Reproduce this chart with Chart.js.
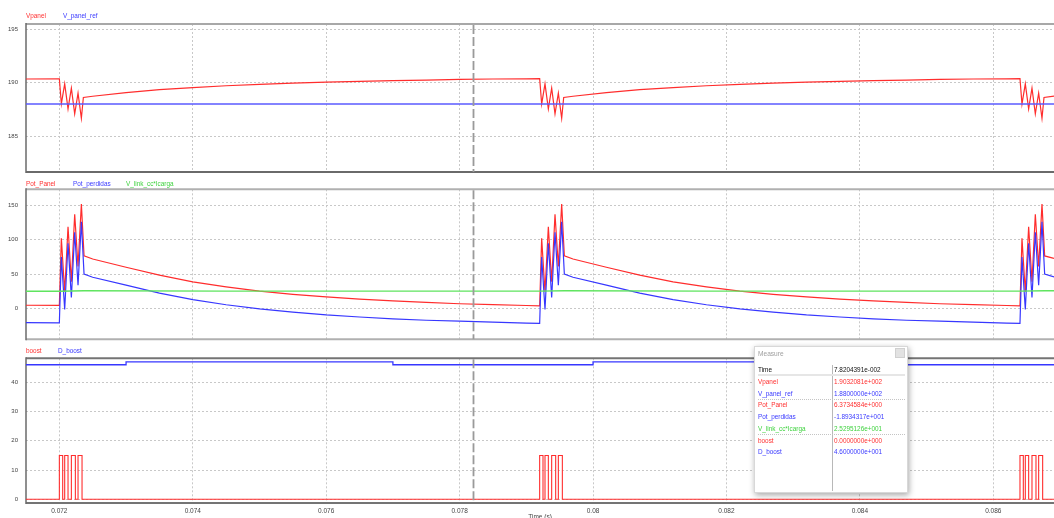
<!DOCTYPE html>
<html>
<head>
<meta charset="utf-8">
<script src="https://cdn.jsdelivr.net/npm/chart.js@4.4.1/dist/chart.umd.min.js"></script>
<style>
  html, body { margin: 0; padding: 0; background: #fff; overflow: hidden; }
  #wrap { position: relative; width: 1054px; height: 518px; overflow: hidden;
          font-family: "Liberation Sans", Arial, sans-serif; }
  canvas.panel { position: absolute; left: 0; top: 0; }
  .lg { position: absolute; font-size: 6.4px; line-height: 8px; white-space: nowrap; }
  .red { color: #ff3030; }
  .blue { color: #3a3aff; }
  .green { color: #3fd23f; }
  #measure { position: absolute; left: 754px; top: 346px; width: 152px; height: 145px;
             background: #fff; border: 1px solid #d8d8d8;
             box-shadow: 1px 2px 6px rgba(0,0,0,0.35); font-size: 6.4px; }
  #measure .t { position: absolute; line-height: 8px; white-space: nowrap; }
  #measure .ttl { color: #a0a0a0; font-size: 6.6px; }
  #measure .close { position: absolute; left: 140px; top: 1px; width: 10px; height: 10px;
                    background: #e2e2e2; border: 1px solid #d0d0d0; box-sizing: border-box; }
  #measure .vdiv { position: absolute; left: 77px; top: 18px; width: 1px; height: 126px; background: #b8b8b8; }
  #measure .hsep { position: absolute; left: 3px; top: 27px; width: 147px; height: 2px; background: #e6e6e6; }
  #measure .dsep { position: absolute; left: 3px; width: 147px; height: 0; border-top: 1px dotted #c4c4c4; }
</style>
</head>
<body>
<div id="wrap">
  <canvas id="pTop" class="panel" width="1054" height="530"></canvas>
  <canvas id="pMid" class="panel" width="1054" height="530"></canvas>
  <canvas id="pBot" class="panel" width="1054" height="530"></canvas>

  <span class="lg red" style="left:26px;top:12px;">Vpanel</span>
  <span class="lg blue" style="left:63px;top:12px;">V_panel_ref</span>

  <span class="lg red" style="left:26px;top:180px;">Pot_Panel</span>
  <span class="lg blue" style="left:73px;top:180px;">Pot_perdidas</span>
  <span class="lg green" style="left:126px;top:180px;">V_link_cc*Icarga</span>

  <span class="lg red" style="left:26px;top:347px;">boost</span>
  <span class="lg blue" style="left:58px;top:347px;">D_boost</span>

  <div id="measure">
    <span class="t ttl" style="left:3px;top:3px;">Measure</span>
    <div class="close"></div>
    <div class="vdiv"></div>
    <div class="hsep"></div>
    <div class="dsep" style="top:52px;"></div>
    <div class="dsep" style="top:87px;"></div>
    <div id="mrows"></div>
  </div>
</div>

<script>
// ---- time axis ----
const xMin = 0.0715;
const xMax = 0.08691;
const xTickValues = [0.072, 0.074, 0.076, 0.078, 0.080, 0.082, 0.084, 0.086];
const xTickLabels = ['0.072', '0.074', '0.076', '0.078', '0.08', '0.082', '0.084', '0.086'];
const cursorTime = 0.078204391;

// ---- panel 1: panel voltage ----
const yTicksTop = [185, 190, 195];
const vpanelTime = [
  0.0715, 0.07200, 0.07203, 0.07208, 0.07213, 0.07218, 0.07223, 0.07228, 0.07233, 0.07236,
  0.0725, 0.0730, 0.0735, 0.0740, 0.0745, 0.0750, 0.0755, 0.0760, 0.0765, 0.0770,
  0.0775, 0.0780, 0.0785, 0.0790, 0.07920,
  0.07923, 0.07928, 0.07933, 0.07938, 0.07943, 0.07948, 0.07953, 0.07956,
  0.0797, 0.0802, 0.0807, 0.0812, 0.0817, 0.0822, 0.0827, 0.0832, 0.0837, 0.0842,
  0.0847, 0.0852, 0.0857, 0.0862, 0.08640,
  0.08643, 0.08648, 0.08653, 0.08658, 0.08663, 0.08668, 0.08673, 0.08676, 0.08691
];
const vpanelValues = [
  190.33, 190.35, 188.0, 189.88, 187.54, 189.47, 187.07, 189.0, 186.66, 188.6,
  188.72, 189.06, 189.33, 189.53, 189.70, 189.83, 189.95, 190.04, 190.11, 190.17,
  190.22, 190.30, 190.33, 190.35, 190.36,
  188.0, 189.88, 187.54, 189.47, 187.07, 189.0, 186.66, 188.6,
  188.72, 189.06, 189.33, 189.53, 189.70, 189.83, 189.95, 190.04, 190.11, 190.17,
  190.22, 190.30, 190.33, 190.35, 190.36,
  188.0, 189.88, 187.54, 189.47, 187.07, 189.0, 186.66, 188.6, 188.73
];
const vrefTime = [0.0715, 0.08691];
const vrefValues = [188, 188];

// ---- panel 2: powers ----
const yTicksMid = [0, 50, 100, 150];
const potTime = [
  0.0715, 0.07200, 0.07203, 0.07208, 0.07213, 0.07218, 0.07223, 0.07228, 0.07233, 0.07237,
  0.0725, 0.0730, 0.0735, 0.0740, 0.0745, 0.0750, 0.0755, 0.0760, 0.0765, 0.0770,
  0.0775, 0.0780, 0.0785, 0.0790, 0.07920,
  0.07923, 0.07928, 0.07933, 0.07938, 0.07943, 0.07948, 0.07953, 0.07957,
  0.0797, 0.0802, 0.0807, 0.0812, 0.0817, 0.0822, 0.0827, 0.0832, 0.0837, 0.0842,
  0.0847, 0.0852, 0.0857, 0.0862, 0.08640,
  0.08643, 0.08648, 0.08653, 0.08658, 0.08663, 0.08668, 0.08673, 0.08677, 0.08691
];
const potPanel = [
  4.8, 4.6, 102, 24, 119, 39, 137, 61, 152, 76.5,
  72, 60, 48.5, 38.8, 31.5, 25.2, 20.6, 16.9, 13.6, 11.1,
  9.0, 7.0, 5.6, 4.4, 4.0,
  102, 24, 119, 39, 137, 61, 152, 76.5,
  72, 60, 48.5, 38.8, 31.5, 25.2, 20.6, 16.9, 13.6, 11.1,
  9.0, 7.0, 5.6, 4.4, 4.0,
  102, 24, 119, 39, 137, 61, 152, 76.5, 73
];
const potPerdidas = [
  -20.5, -20.8, 75, -1.5, 95, 16, 111, 34, 126, 50,
  45.5, 34, 22.5, 13, 5.5, -0.5, -5.2, -9.3, -12.3, -14.9,
  -17.0, -18.4, -19.8, -21.2, -21.6,
  75, -1.5, 95, 16, 111, 34, 126, 50,
  45.5, 34, 22.5, 13, 5.5, -0.5, -5.2, -9.3, -12.3, -14.9,
  -17.0, -18.4, -19.8, -21.2, -21.6,
  75, -1.5, 95, 16, 111, 34, 126, 50, 46
];
const vlinkTime = [0.0715, 0.07200, 0.07237, 0.0745, 0.07920, 0.07957, 0.0817, 0.08640, 0.08677, 0.08691];
const vlinkValues = [25.1, 25.1, 25.8, 25.3, 25.3, 25.8, 25.3, 25.3, 25.8, 25.8];

// ---- panel 3: switching signals (each value holds until the next time) ----
const yTicksBot = [0, 10, 20, 30, 40];
const boostTime = [
  0.0715,
  0.07200, 0.07205, 0.07208, 0.07213, 0.07218, 0.07224, 0.07228, 0.07234,
  0.07920, 0.07925, 0.07928, 0.07933, 0.07938, 0.07944, 0.07948, 0.07954,
  0.08640, 0.08645, 0.08648, 0.08653, 0.08658, 0.08664, 0.08668, 0.08674,
  0.08691
];
const boostValues = [
  0,
  15, 0, 15, 0, 15, 0, 15, 0,
  15, 0, 15, 0, 15, 0, 15, 0,
  15, 0, 15, 0, 15, 0, 15, 0,
  0
];
const dBoostTime = [0.0715, 0.0730, 0.0770, 0.0800, 0.0835, 0.08691];
const dBoostValues = [46, 47, 46, 47, 46, 46];

// ---- measure readout ----
const measureNames = ['Vpanel', 'V_panel_ref', 'Pot_Panel', 'Pot_perdidas', 'V_link_cc*Icarga', 'boost', 'D_boost'];
const measureValues = ['1.9032081e+002', '1.8800000e+002', '6.3734584e+000', '-1.8934317e+001',
                       '2.5295126e+001', '0.0000000e+000', '4.6000000e+001'];
const measureClasses = ['red', 'blue', 'red', 'blue', 'green', 'red', 'blue'];

const RED = 'rgb(255,45,45)';
const BLUE = 'rgb(55,55,255)';
const GREEN = 'rgb(95,228,95)';
const FONT = "'Liberation Sans', Arial, sans-serif";

function pts(t, v) { return t.map((x, i) => ({ x: x, y: v[i] })); }

function line(data, color, width, stepped) {
  return { data: data, borderColor: color, backgroundColor: color, borderWidth: width,
           pointRadius: 0, tension: 0, fill: false, stepped: stepped || false };
}

// frame lines and measurement cursor for each panel
const framePlugin = {
  id: 'frame',
  beforeDatasetsDraw(chart, args, o) {
    const { ctx, chartArea: a } = chart;
    ctx.save();
    ctx.lineWidth = 2;
    ctx.strokeStyle = o.top;
    ctx.beginPath(); ctx.moveTo(a.left, a.top); ctx.lineTo(a.right, a.top); ctx.stroke();
    ctx.strokeStyle = o.bottom;
    ctx.beginPath(); ctx.moveTo(a.left, a.bottom); ctx.lineTo(a.right, a.bottom); ctx.stroke();
    ctx.lineWidth = 1.5;
    ctx.strokeStyle = o.left;
    ctx.beginPath(); ctx.moveTo(a.left, a.top - 1); ctx.lineTo(a.left, a.bottom + 1); ctx.stroke();
    ctx.restore();
  },
  afterDatasetsDraw(chart) {
    const { ctx, chartArea: a } = chart;
    const x = Math.round(chart.scales.x.getPixelForValue(cursorTime)) + 0.5;
    ctx.save();
    ctx.strokeStyle = '#9a9a9a';
    ctx.lineWidth = 1.8;
    ctx.setLineDash([9, 3]);
    ctx.beginPath(); ctx.moveTo(x, a.top + 1); ctx.lineTo(x, a.bottom); ctx.stroke();
    ctx.restore();
  }
};

function makePanel(id, padTop, padBottom, yMin, yMax, yTicks, datasets, showX, frame) {
  return new Chart(document.getElementById(id), {
    type: 'line',
    data: { datasets: datasets },
    plugins: [framePlugin],
    options: {
      responsive: false,
      animation: false,
      events: [],
      layout: { padding: { left: 0, right: 0, top: padTop, bottom: padBottom } },
      plugins: { legend: { display: false }, tooltip: { enabled: false }, frame: frame },
      scales: {
        x: {
          type: 'linear', min: xMin, max: xMax,
          afterBuildTicks: s => { s.ticks = xTickValues.map(v => ({ value: v })); },
          afterFit: s => { s.height = showX ? 27 : 0; },
          grid: { color: '#c8c8c8', lineWidth: 1, drawTicks: false },
          border: { display: false, dash: [2, 2] },
          ticks: {
            display: showX, autoSkip: false, maxRotation: 0, padding: 4,
            color: '#444', font: { family: FONT, size: 6.5 },
            callback: (v, i) => xTickLabels[i]
          },
          title: {
            display: showX, text: 'Time (s)', color: '#444',
            font: { family: FONT, size: 6.5 }, padding: { top: 0, bottom: 8.5 }
          }
        },
        y: {
          type: 'linear', min: yMin, max: yMax,
          afterBuildTicks: s => { s.ticks = yTicks.map(v => ({ value: v })); },
          afterFit: s => { s.width = 26; },
          grid: { color: '#c8c8c8', lineWidth: 1, drawTicks: false },
          border: { display: false, dash: [2, 2] },
          ticks: {
            padding: 8, color: '#444', font: { family: FONT, size: 6 },
            callback: v => String(v)
          }
        }
      }
    }
  });
}

makePanel('pTop', 24, 530 - 172, 181.64, 195.47, yTicksTop, [
  line(pts(vrefTime, vrefValues), 'rgb(90,90,255)', 1.6),
  line(pts(vpanelTime, vpanelValues), RED, 1.2)
], false, { top: '#a8a8a8', bottom: '#6a6a6a', left: '#6a6a6a' });

makePanel('pMid', 189.3, 530 - 339.3, -44.7, 173.3, yTicksMid, [
  line(pts(vlinkTime, vlinkValues), GREEN, 1.4),
  line(pts(potTime, potPerdidas), BLUE, 1.2),
  line(pts(potTime, potPanel), RED, 1.2)
], false, { top: '#b0b0b0', bottom: '#b0b0b0', left: '#6a6a6a' });

makePanel('pBot', 358.3, 0, -1.26, 48.2, yTicksBot, [
  line(pts(dBoostTime, dBoostValues), BLUE, 1.3, 'before'),
  line(pts(boostTime, boostValues), RED, 1.1, 'before')
], true, { top: '#747474', bottom: '#747474', left: '#6a6a6a' });

// readout table
const rows = document.getElementById('mrows');
function addText(txt, cls, left, top, extra) {
  const s = document.createElement('span');
  s.className = 't ' + (cls || '');
  s.textContent = txt;
  s.style.left = left + 'px';
  s.style.top = top + 'px';
  if (extra) s.style.color = extra;
  rows.appendChild(s);
}
addText('Time', '', 3, 19, '#111');
addText('7.8204391e-002', '', 79, 19, '#111');
const rowTops = [31, 42.5, 54, 66, 78, 89.5, 101];
measureNames.forEach((n, i) => {
  addText(n, measureClasses[i], 3, rowTops[i]);
  addText(measureValues[i], measureClasses[i], 79, rowTops[i]);
});
</script>
</body>
</html>
